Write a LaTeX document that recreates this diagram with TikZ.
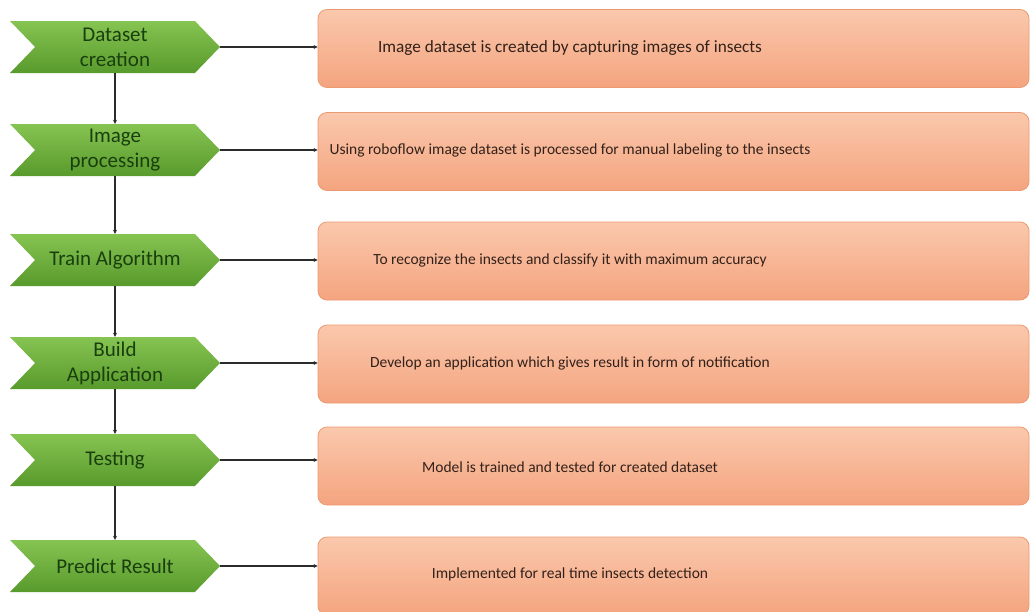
\documentclass[tikz,border=0pt]{standalone}
\usepackage{fontspec}
\setmainfont{Carlito}
\usetikzlibrary{shapes.symbols,arrows.meta}
\definecolor{gtop}{HTML}{86C452}
\definecolor{gbot}{HTML}{589A2C}
\definecolor{gtext}{HTML}{1A3F0E}
\definecolor{otop}{HTML}{FAC8AC}
\definecolor{obot}{HTML}{F4A47F}
\definecolor{oline}{HTML}{EC9A73}
\definecolor{otext}{HTML}{33211A}
\definecolor{conncol}{HTML}{2B2B2B}
\begin{document}
\begin{tikzpicture}[x=1pt,y=-1pt,
 chev/.style={signal, signal from=west, signal to=east, signal pointer angle=92,
   minimum width=210pt, minimum height=52pt, inner sep=0pt,
   top color=gtop, bottom color=gbot, draw=none, text=gtext,
   font=\fontsize{21}{25}\selectfont, align=center},
 descbox/.style={rounded corners=9pt, minimum width=711pt, minimum height=78pt,
   top color=otop, bottom color=obot, draw=oline, line width=0.8pt},
 desctext/.style={text=otext, font=\fontsize{15.5}{18}\selectfont, inner sep=0pt},
 conn/.style={draw=conncol, line width=1.3pt, -{Stealth[length=4pt,width=4pt]}}]
\clip (0,0) rectangle (1036,611);
\fill[white] (0,0) rectangle (1036,611);

\node[chev] (c1) at (115,47) {Dataset\\creation};
\node[chev] (c2) at (115,150) {Image\\processing};
\node[chev] (c3) at (115,260) {Train Algorithm};
\node[chev] (c4) at (115,363) {Build\\Application};
\node[chev] (c5) at (115,460) {Testing};
\node[chev] (c6) at (115,566) {Predict Result};

\node[descbox] (b1) at (673.5,48.5) {};
\node[descbox] (b2) at (673.5,151.5) {};
\node[descbox] (b3) at (673.5,261) {};
\node[descbox] (b4) at (673.5,364) {};
\node[descbox] (b5) at (673.5,466) {};
\node[descbox] (b6) at (673.5,576) {};

\node[desctext, font=\fontsize{17.2}{20}\selectfont] (t1) at (570,48) {Image dataset is created by capturing images of insects};
\node[desctext] (t2) at (570,150) {Using roboflow image dataset is processed for manual labeling to the insects};
\node[desctext] (t3) at (570,260) {To recognize the insects and classify it with maximum accuracy};
\node[desctext] (t4) at (570,363) {Develop an application which gives result in form of notification};
\node[desctext] (t5) at (570,467) {Model is trained and tested for created dataset};
\node[desctext] (t6) at (570,574) {Implemented for real time insects detection};

\foreach \i in {1,...,6} {
  \draw[conn] (c\i.east) -- (c\i.east -| b\i.west);
}
\foreach \i/\j in {1/2,2/3,3/4,4/5,5/6} {
  \draw[conn] (c\i.south) -- (c\j.north);
}
\end{tikzpicture}
\end{document}
